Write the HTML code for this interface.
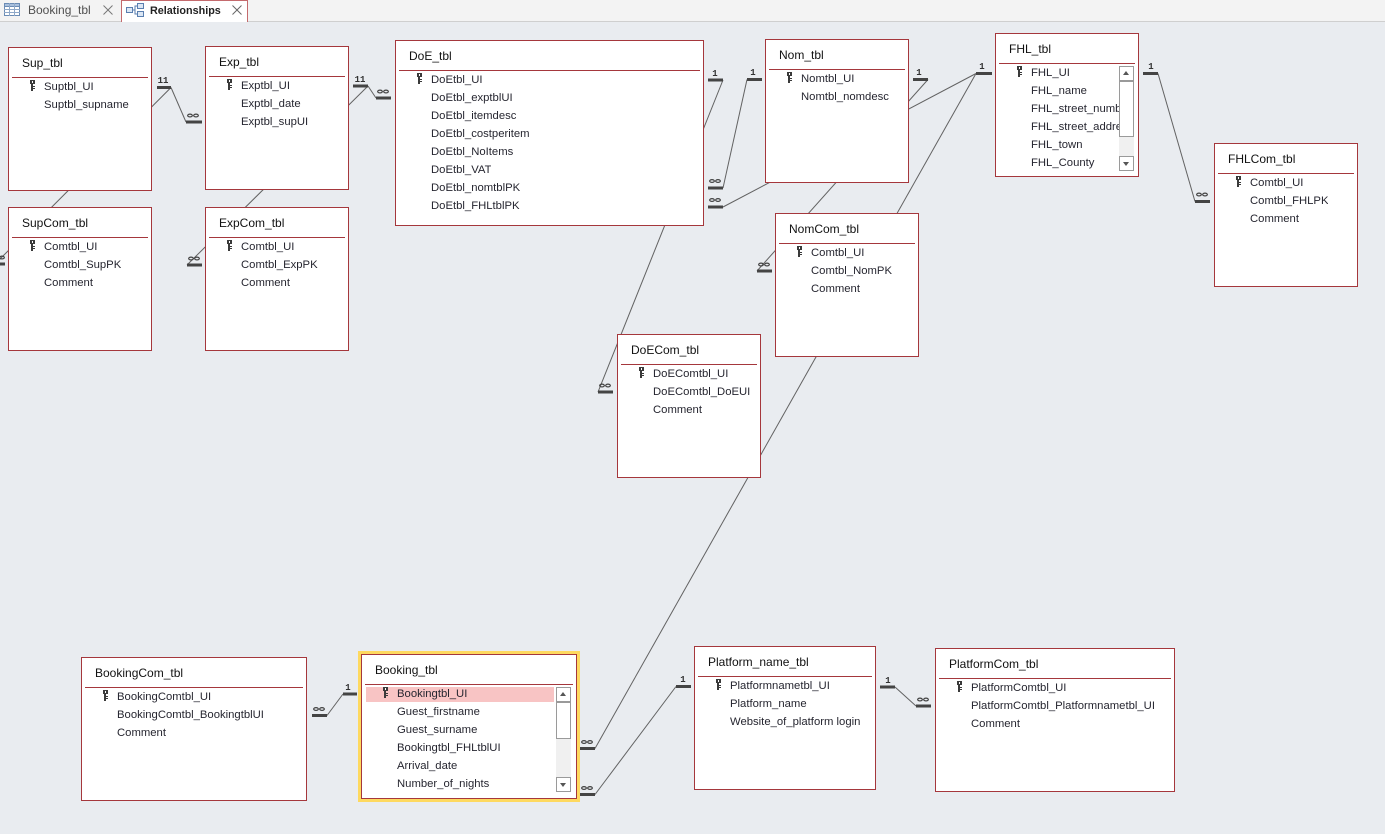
<!DOCTYPE html>
<html><head><meta charset="utf-8">
<style>
html,body{margin:0;padding:0}
body{width:1385px;height:834px;overflow:hidden;background:#e9ecf0;position:relative;font-family:"Liberation Sans",sans-serif}
.tabs{position:absolute;left:0;top:0;width:1385px;height:21px;background:#f3f3f3;border-bottom:1px solid #cfcfcf}
.tab2{position:absolute;left:121px;top:0;width:127px;height:22px;background:#fff;border-left:1px solid #c46a6d;border-right:1px solid #c46a6d;border-top:1px solid #c46a6d;box-sizing:border-box}
.tb{position:absolute;background:#fff;border:1px solid #a5373c;box-sizing:border-box;z-index:2}
.tt{position:absolute;left:13px;top:8px;font-size:12px;line-height:14px;color:#111;white-space:nowrap}
.sep{position:absolute;left:3px;right:3px;top:29px;height:1px;background:#a5373c}
.f{position:absolute;left:35px;font-size:11.3px;line-height:14px;color:#262630;white-space:nowrap;overflow:hidden}
.k{position:absolute;left:21px}
.hl{position:absolute;left:4px;top:32px;width:188px;height:15px;background:#f8c4c4}
.sb{position:absolute;width:15px;height:105px;background:#f0f0f0}
.sbu,.sbd,.sbt{position:absolute;left:0;width:15px;box-sizing:border-box;border:1px solid #9a9a9a;background:#fff}
.sbu{top:0;height:15px}
.sbd{bottom:0;height:15px}
.sbu:after{content:"";position:absolute;left:3px;top:4px;border-left:3.5px solid transparent;border-right:3.5px solid transparent;border-bottom:4px solid #555}
.sbd:after{content:"";position:absolute;left:3px;top:5px;border-left:3.5px solid transparent;border-right:3.5px solid transparent;border-top:4px solid #555}
svg.lines{position:absolute;left:0;top:0;z-index:1}
</style></head><body>

<div class="tabs"></div>
<svg style="position:absolute;left:4px;top:3px" width="16" height="13" viewBox="0 0 16 13">
<rect x="0.5" y="0.5" width="15" height="12" fill="#fff" stroke="#6b8cb5"/>
<rect x="0.5" y="0.5" width="15" height="3" fill="#a9c0dd" stroke="#6b8cb5"/>
<line x1="0" y1="6.5" x2="16" y2="6.5" stroke="#8fa9c9"/><line x1="0" y1="9.5" x2="16" y2="9.5" stroke="#8fa9c9"/>
<line x1="5.5" y1="0" x2="5.5" y2="13" stroke="#8fa9c9"/><line x1="10.5" y1="0" x2="10.5" y2="13" stroke="#8fa9c9"/>
</svg>
<div style="position:absolute;left:28px;top:3px;font-size:12px;line-height:14px;color:#505050">Booking_tbl</div>
<svg style="position:absolute;left:103px;top:5px" width="10" height="10"><line x1="0.5" y1="0.5" x2="9.5" y2="9.5" stroke="#777"/><line x1="9.5" y1="0.5" x2="0.5" y2="9.5" stroke="#777"/></svg>
<div class="tab2"></div>
<svg style="position:absolute;left:126px;top:3px" width="18" height="14" viewBox="0 0 18 14">
<rect x="0.5" y="4.5" width="6" height="5" fill="#dce7f4" stroke="#5a7fb0"/>
<rect x="11.5" y="0.5" width="6" height="5" fill="#dce7f4" stroke="#5a7fb0"/>
<rect x="11.5" y="8.5" width="6" height="5" fill="#dce7f4" stroke="#5a7fb0"/>
<path d="M7 7 H9 V3 H11 M9 7 V11 H11" fill="none" stroke="#5a7fb0"/>
</svg>
<div style="position:absolute;left:150px;top:4px;font-size:10.8px;line-height:14px;font-weight:bold;color:#222">Relationships</div>
<svg style="position:absolute;left:232px;top:5px" width="10" height="10"><line x1="0.5" y1="0.5" x2="9.5" y2="9.5" stroke="#666"/><line x1="9.5" y1="0.5" x2="0.5" y2="9.5" stroke="#666"/></svg>

<svg class="lines" width="1385" height="834" viewBox="0 0 1385 834">
<g stroke="#626262" stroke-width="1" fill="none">
<line x1="171" y1="87.5" x2="186" y2="122"/>
<line x1="171" y1="87.5" x2="-5" y2="264"/>
<line x1="368" y1="86" x2="376" y2="98"/>
<line x1="368" y1="86" x2="187" y2="265"/>
<line x1="723" y1="80" x2="598" y2="392"/>
<line x1="747" y1="79.5" x2="723" y2="188"/>
<line x1="976" y1="73.5" x2="723" y2="207"/>
<line x1="928" y1="79.5" x2="757" y2="271"/>
<line x1="976" y1="73.5" x2="595" y2="748.5"/>
<line x1="1158" y1="73.5" x2="1195" y2="201.5"/>
<line x1="343" y1="694" x2="327" y2="715.5"/>
<line x1="595" y1="794.5" x2="676" y2="686.5"/>
<line x1="895" y1="687" x2="916" y2="706"/>
</g>
<g fill="#444">
<rect x="157" y="86" width="14" height="3"/>
<rect x="353" y="84.5" width="15" height="3"/>
<rect x="708" y="78.5" width="15" height="3"/>
<rect x="747" y="78" width="15" height="3"/>
<rect x="913" y="78" width="15" height="3"/>
<rect x="976" y="72" width="16" height="3"/>
<rect x="1143" y="72" width="15" height="3"/>
<rect x="343" y="692.5" width="14" height="3"/>
<rect x="676" y="685" width="15" height="3"/>
<rect x="880" y="685.5" width="15" height="3"/>
<rect x="186" y="120.5" width="16" height="3"/>
<rect x="376" y="96.5" width="15" height="3"/>
<rect x="-11" y="262.5" width="16" height="3"/>
<rect x="187" y="263.5" width="15" height="3"/>
<rect x="598" y="390.5" width="15" height="3"/>
<rect x="757" y="269.5" width="15" height="3"/>
<rect x="708" y="186.5" width="15" height="3"/>
<rect x="708" y="205.5" width="15" height="3"/>
<rect x="1195" y="200" width="15" height="3"/>
<rect x="312" y="714" width="15" height="3"/>
<rect x="580" y="747" width="15" height="3"/>
<rect x="580" y="793" width="15" height="3"/>
<rect x="916" y="704.5" width="15" height="3"/>
</g>
<g font-family="Liberation Mono, monospace" font-weight="bold" font-size="9" fill="#333" text-anchor="middle">
<text x="163" y="83">11</text>
<text x="360" y="82">11</text>
<text x="715" y="76">1</text>
<text x="753" y="75">1</text>
<text x="919" y="75">1</text>
<text x="982" y="69">1</text>
<text x="1151" y="69">1</text>
<text x="348" y="690">1</text>
<text x="683" y="682">1</text>
<text x="888" y="683">1</text>
</g>
<g fill="none" stroke="#444" stroke-width="1.3">
<ellipse cx="190" cy="115.5" rx="2.3" ry="1.4"/><ellipse cx="196" cy="115.5" rx="2.3" ry="1.4"/>
<ellipse cx="380" cy="91.5" rx="2.3" ry="1.4"/><ellipse cx="386" cy="91.5" rx="2.3" ry="1.4"/>
<ellipse cx="-4" cy="257.5" rx="2.3" ry="1.4"/><ellipse cx="2" cy="257.5" rx="2.3" ry="1.4"/>
<ellipse cx="191" cy="258.5" rx="2.3" ry="1.4"/><ellipse cx="197" cy="258.5" rx="2.3" ry="1.4"/>
<ellipse cx="602" cy="385.5" rx="2.3" ry="1.4"/><ellipse cx="608" cy="385.5" rx="2.3" ry="1.4"/>
<ellipse cx="761" cy="264.5" rx="2.3" ry="1.4"/><ellipse cx="767" cy="264.5" rx="2.3" ry="1.4"/>
<ellipse cx="712" cy="181" rx="2.3" ry="1.4"/><ellipse cx="718" cy="181" rx="2.3" ry="1.4"/>
<ellipse cx="712" cy="200" rx="2.3" ry="1.4"/><ellipse cx="718" cy="200" rx="2.3" ry="1.4"/>
<ellipse cx="1199" cy="194.5" rx="2.3" ry="1.4"/><ellipse cx="1205" cy="194.5" rx="2.3" ry="1.4"/>
<ellipse cx="316" cy="709" rx="2.3" ry="1.4"/><ellipse cx="322" cy="709" rx="2.3" ry="1.4"/>
<ellipse cx="584" cy="742" rx="2.3" ry="1.4"/><ellipse cx="590" cy="742" rx="2.3" ry="1.4"/>
<ellipse cx="584" cy="788" rx="2.3" ry="1.4"/><ellipse cx="590" cy="788" rx="2.3" ry="1.4"/>
<ellipse cx="920" cy="699.5" rx="2.3" ry="1.4"/><ellipse cx="926" cy="699.5" rx="2.3" ry="1.4"/>
</g>
</svg>

<!-- Sup_tbl -->
<div class="tb" style="left:8px;top:47px;width:144px;height:144px">
<div class="tt">Sup_tbl</div><div class="sep"></div>
<svg class="k" style="top:32px" width="6" height="11"><rect x="0" y="0" width="5" height="4" fill="#3a3a3a"/><rect x="2" y="1" width="1" height="2" fill="#fff"/><rect x="1" y="4" width="2" height="7" fill="#3a3a3a"/><rect x="3" y="6" width="2" height="1" fill="#3a3a3a"/><rect x="3" y="8" width="2" height="1" fill="#3a3a3a"/></svg>
<div class="f" style="top:32px">Suptbl_UI</div>
<div class="f" style="top:50px">Suptbl_supname</div>
</div>

<!-- Exp_tbl -->
<div class="tb" style="left:205px;top:46px;width:144px;height:144px">
<div class="tt">Exp_tbl</div><div class="sep"></div>
<svg class="k" style="top:32px" width="6" height="11"><rect x="0" y="0" width="5" height="4" fill="#3a3a3a"/><rect x="2" y="1" width="1" height="2" fill="#fff"/><rect x="1" y="4" width="2" height="7" fill="#3a3a3a"/><rect x="3" y="6" width="2" height="1" fill="#3a3a3a"/><rect x="3" y="8" width="2" height="1" fill="#3a3a3a"/></svg>
<div class="f" style="top:32px">Exptbl_UI</div>
<div class="f" style="top:50px">Exptbl_date</div>
<div class="f" style="top:68px">Exptbl_supUI</div>
</div>

<!-- SupCom_tbl -->
<div class="tb" style="left:8px;top:207px;width:144px;height:144px">
<div class="tt">SupCom_tbl</div><div class="sep"></div>
<svg class="k" style="top:32px" width="6" height="11"><rect x="0" y="0" width="5" height="4" fill="#3a3a3a"/><rect x="2" y="1" width="1" height="2" fill="#fff"/><rect x="1" y="4" width="2" height="7" fill="#3a3a3a"/><rect x="3" y="6" width="2" height="1" fill="#3a3a3a"/><rect x="3" y="8" width="2" height="1" fill="#3a3a3a"/></svg>
<div class="f" style="top:32px">Comtbl_UI</div>
<div class="f" style="top:50px">Comtbl_SupPK</div>
<div class="f" style="top:68px">Comment</div>
</div>

<!-- ExpCom_tbl -->
<div class="tb" style="left:205px;top:207px;width:144px;height:144px">
<div class="tt">ExpCom_tbl</div><div class="sep"></div>
<svg class="k" style="top:32px" width="6" height="11"><rect x="0" y="0" width="5" height="4" fill="#3a3a3a"/><rect x="2" y="1" width="1" height="2" fill="#fff"/><rect x="1" y="4" width="2" height="7" fill="#3a3a3a"/><rect x="3" y="6" width="2" height="1" fill="#3a3a3a"/><rect x="3" y="8" width="2" height="1" fill="#3a3a3a"/></svg>
<div class="f" style="top:32px">Comtbl_UI</div>
<div class="f" style="top:50px">Comtbl_ExpPK</div>
<div class="f" style="top:68px">Comment</div>
</div>

<!-- DoE_tbl -->
<div class="tb" style="left:395px;top:40px;width:309px;height:186px">
<div class="tt">DoE_tbl</div><div class="sep"></div>
<svg class="k" style="top:32px" width="6" height="11"><rect x="0" y="0" width="5" height="4" fill="#3a3a3a"/><rect x="2" y="1" width="1" height="2" fill="#fff"/><rect x="1" y="4" width="2" height="7" fill="#3a3a3a"/><rect x="3" y="6" width="2" height="1" fill="#3a3a3a"/><rect x="3" y="8" width="2" height="1" fill="#3a3a3a"/></svg>
<div class="f" style="top:32px">DoEtbl_UI</div>
<div class="f" style="top:50px">DoEtbl_exptblUI</div>
<div class="f" style="top:68px">DoEtbl_itemdesc</div>
<div class="f" style="top:86px">DoEtbl_costperitem</div>
<div class="f" style="top:104px">DoEtbl_NoItems</div>
<div class="f" style="top:122px">DoEtbl_VAT</div>
<div class="f" style="top:140px">DoEtbl_nomtblPK</div>
<div class="f" style="top:158px">DoEtbl_FHLtblPK</div>
</div>

<!-- Nom_tbl -->
<div class="tb" style="left:765px;top:39px;width:144px;height:144px">
<div class="tt">Nom_tbl</div><div class="sep"></div>
<svg class="k" style="top:32px" width="6" height="11"><rect x="0" y="0" width="5" height="4" fill="#3a3a3a"/><rect x="2" y="1" width="1" height="2" fill="#fff"/><rect x="1" y="4" width="2" height="7" fill="#3a3a3a"/><rect x="3" y="6" width="2" height="1" fill="#3a3a3a"/><rect x="3" y="8" width="2" height="1" fill="#3a3a3a"/></svg>
<div class="f" style="top:32px">Nomtbl_UI</div>
<div class="f" style="top:50px">Nomtbl_nomdesc</div>
</div>

<!-- FHL_tbl -->
<div class="tb" style="left:995px;top:33px;width:144px;height:144px">
<div class="tt">FHL_tbl</div><div class="sep"></div>
<svg class="k" style="top:32px" width="6" height="11"><rect x="0" y="0" width="5" height="4" fill="#3a3a3a"/><rect x="2" y="1" width="1" height="2" fill="#fff"/><rect x="1" y="4" width="2" height="7" fill="#3a3a3a"/><rect x="3" y="6" width="2" height="1" fill="#3a3a3a"/><rect x="3" y="8" width="2" height="1" fill="#3a3a3a"/></svg>
<div class="f" style="top:32px;width:88px">FHL_UI</div>
<div class="f" style="top:50px;width:88px">FHL_name</div>
<div class="f" style="top:68px;width:88px">FHL_street_number</div>
<div class="f" style="top:86px;width:88px">FHL_street_address</div>
<div class="f" style="top:104px;width:88px">FHL_town</div>
<div class="f" style="top:122px;width:88px">FHL_County</div>
<div class="sb" style="left:123px;top:32px"><div class="sbu"></div><div class="sbt" style="top:15px;height:56px"></div><div class="sbd"></div></div>
</div>

<!-- FHLCom_tbl -->
<div class="tb" style="left:1214px;top:143px;width:144px;height:144px">
<div class="tt">FHLCom_tbl</div><div class="sep"></div>
<svg class="k" style="top:32px" width="6" height="11"><rect x="0" y="0" width="5" height="4" fill="#3a3a3a"/><rect x="2" y="1" width="1" height="2" fill="#fff"/><rect x="1" y="4" width="2" height="7" fill="#3a3a3a"/><rect x="3" y="6" width="2" height="1" fill="#3a3a3a"/><rect x="3" y="8" width="2" height="1" fill="#3a3a3a"/></svg>
<div class="f" style="top:32px">Comtbl_UI</div>
<div class="f" style="top:50px">Comtbl_FHLPK</div>
<div class="f" style="top:68px">Comment</div>
</div>

<!-- NomCom_tbl -->
<div class="tb" style="left:775px;top:213px;width:144px;height:144px">
<div class="tt">NomCom_tbl</div><div class="sep"></div>
<svg class="k" style="top:32px" width="6" height="11"><rect x="0" y="0" width="5" height="4" fill="#3a3a3a"/><rect x="2" y="1" width="1" height="2" fill="#fff"/><rect x="1" y="4" width="2" height="7" fill="#3a3a3a"/><rect x="3" y="6" width="2" height="1" fill="#3a3a3a"/><rect x="3" y="8" width="2" height="1" fill="#3a3a3a"/></svg>
<div class="f" style="top:32px">Comtbl_UI</div>
<div class="f" style="top:50px">Comtbl_NomPK</div>
<div class="f" style="top:68px">Comment</div>
</div>

<!-- DoECom_tbl -->
<div class="tb" style="left:617px;top:334px;width:144px;height:144px">
<div class="tt">DoECom_tbl</div><div class="sep"></div>
<svg class="k" style="top:32px" width="6" height="11"><rect x="0" y="0" width="5" height="4" fill="#3a3a3a"/><rect x="2" y="1" width="1" height="2" fill="#fff"/><rect x="1" y="4" width="2" height="7" fill="#3a3a3a"/><rect x="3" y="6" width="2" height="1" fill="#3a3a3a"/><rect x="3" y="8" width="2" height="1" fill="#3a3a3a"/></svg>
<div class="f" style="top:32px">DoEComtbl_UI</div>
<div class="f" style="top:50px">DoEComtbl_DoEUI</div>
<div class="f" style="top:68px">Comment</div>
</div>

<!-- BookingCom_tbl -->
<div class="tb" style="left:81px;top:657px;width:226px;height:144px">
<div class="tt">BookingCom_tbl</div><div class="sep"></div>
<svg class="k" style="top:32px" width="6" height="11"><rect x="0" y="0" width="5" height="4" fill="#3a3a3a"/><rect x="2" y="1" width="1" height="2" fill="#fff"/><rect x="1" y="4" width="2" height="7" fill="#3a3a3a"/><rect x="3" y="6" width="2" height="1" fill="#3a3a3a"/><rect x="3" y="8" width="2" height="1" fill="#3a3a3a"/></svg>
<div class="f" style="top:32px">BookingComtbl_UI</div>
<div class="f" style="top:50px">BookingComtbl_BookingtblUI</div>
<div class="f" style="top:68px">Comment</div>
</div>

<!-- Booking_tbl (selected) -->
<div style="position:absolute;left:358px;top:651px;width:222px;height:151px;box-sizing:border-box;border:3px solid #fed95f;z-index:2"></div>
<div class="tb" style="left:361px;top:654px;width:216px;height:145px">
<div class="tt">Booking_tbl</div><div class="sep"></div>
<div class="hl"></div>
<svg class="k" style="top:32px" width="6" height="11"><rect x="0" y="0" width="5" height="4" fill="#3a3a3a"/><rect x="2" y="1" width="1" height="2" fill="#fff"/><rect x="1" y="4" width="2" height="7" fill="#3a3a3a"/><rect x="3" y="6" width="2" height="1" fill="#3a3a3a"/><rect x="3" y="8" width="2" height="1" fill="#3a3a3a"/></svg>
<div class="f" style="top:32px">Bookingtbl_UI</div>
<div class="f" style="top:50px">Guest_firstname</div>
<div class="f" style="top:68px">Guest_surname</div>
<div class="f" style="top:86px">Bookingtbl_FHLtblUI</div>
<div class="f" style="top:104px">Arrival_date</div>
<div class="f" style="top:122px">Number_of_nights</div>
<div class="sb" style="left:194px;top:32px"><div class="sbu"></div><div class="sbt" style="top:15px;height:37px"></div><div class="sbd"></div></div>
</div>

<!-- Platform_name_tbl -->
<div class="tb" style="left:694px;top:646px;width:182px;height:144px">
<div class="tt">Platform_name_tbl</div><div class="sep"></div>
<svg class="k" style="top:32px" width="6" height="11"><rect x="0" y="0" width="5" height="4" fill="#3a3a3a"/><rect x="2" y="1" width="1" height="2" fill="#fff"/><rect x="1" y="4" width="2" height="7" fill="#3a3a3a"/><rect x="3" y="6" width="2" height="1" fill="#3a3a3a"/><rect x="3" y="8" width="2" height="1" fill="#3a3a3a"/></svg>
<div class="f" style="top:32px">Platformnametbl_UI</div>
<div class="f" style="top:50px">Platform_name</div>
<div class="f" style="top:68px">Website_of_platform login</div>
</div>

<!-- PlatformCom_tbl -->
<div class="tb" style="left:935px;top:648px;width:240px;height:144px">
<div class="tt">PlatformCom_tbl</div><div class="sep"></div>
<svg class="k" style="top:32px" width="6" height="11"><rect x="0" y="0" width="5" height="4" fill="#3a3a3a"/><rect x="2" y="1" width="1" height="2" fill="#fff"/><rect x="1" y="4" width="2" height="7" fill="#3a3a3a"/><rect x="3" y="6" width="2" height="1" fill="#3a3a3a"/><rect x="3" y="8" width="2" height="1" fill="#3a3a3a"/></svg>
<div class="f" style="top:32px">PlatformComtbl_UI</div>
<div class="f" style="top:50px">PlatformComtbl_Platformnametbl_UI</div>
<div class="f" style="top:68px">Comment</div>
</div>

</body></html>
